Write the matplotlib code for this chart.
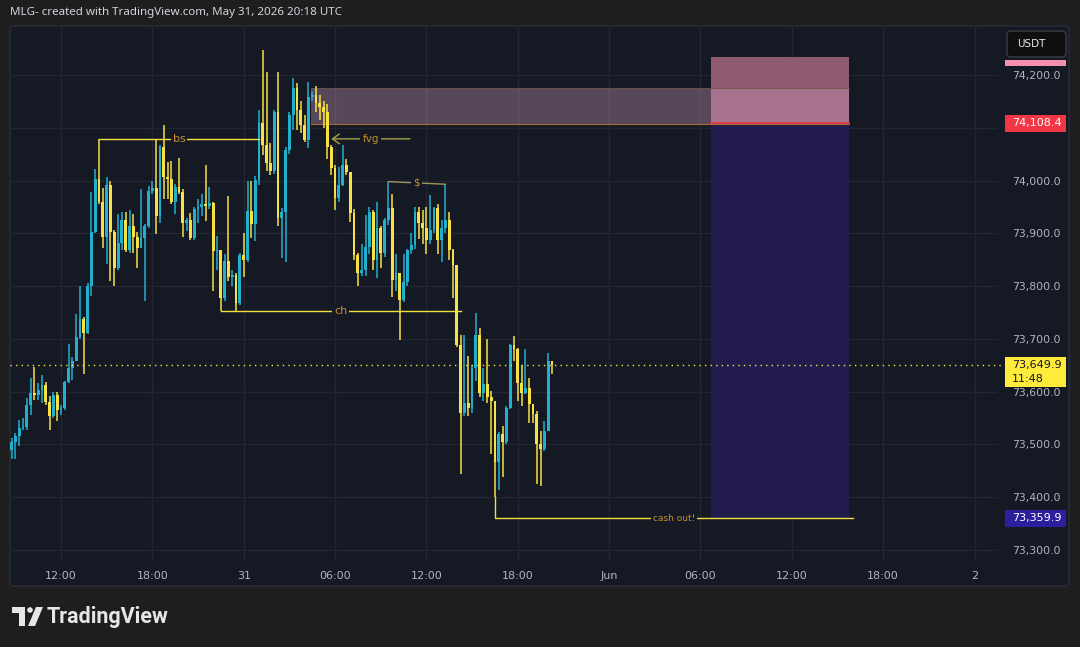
import matplotlib
matplotlib.use("Agg")
import matplotlib.pyplot as plt
import matplotlib.dates as mdates
from matplotlib.patches import Rectangle, FancyBboxPatch, Polygon, Circle
import pandas as pd

# 15m candles, 30 May 08:45 -> 31 May 20:15 (UTC)
first_open = 73490
closes = [73505, 73516, 73531, 73534, 73575, 73597, 73594, 73603, 73612, 73581,
          73553, 73594, 73566, 73569, 73619, 73644, 73659, 73703, 73737, 73712,
          73800, 73903, 74003, 73959, 73894, 73991, 73903, 73834, 73881, 73925,
          73869, 73913, 73894, 73872, 73891, 73913, 73981, 73985, 73933, 74064,
          74006, 74003, 73959, 73987, 73979, 73920, 73925, 73892, 73946, 73950,
          73956, 73952, 73957, 73866, 73869, 73777, 73847, 73818, 73822, 73768,
          73859, 73850, 73942, 73917, 74002, 74109, 74068, 74033, 74018, 74130,
          73929, 73941, 74058, 74124, 74176, 74134, 74105, 74077, 74158, 74162,
          74147, 74140, 74130, 74064, 74024, 73967, 73992, 74030, 74017, 73939,
          73859, 73825, 73830, 73874, 73940, 73850, 73910, 73863, 73925, 73948,
          73812, 73825, 73773, 73808, 73868, 73878, 73940, 73920, 73910, 73887,
          73906, 73948, 73887, 73910, 73925, 73868, 73840, 73689, 73560, 73579,
          73570, 73645, 73708, 73598, 73614, 73589, 73582, 73466, 73520, 73504,
          73570, 73689, 73680, 73617, 73598, 73607, 73576, 73557, 73501, 73491,
          73526, 73659, 73650]
highs = [73512, 73522, 73547, 73550, 73588, 73625, 73647, 73616, 73631, 73619,
         73591, 73600, 73600, 73575, 73620, 73691, 73666, 73747, 73800, 73741,
         73806, 73978, 74022, 74079, 73985, 74006, 74000, 73906, 73937, 73940,
         73940, 73944, 73937, 73903, 73984, 73918, 73990, 74000, 74076, 74067,
         74105, 74035, 74038, 73993, 74043, 73984, 73930, 73939, 73949, 73965,
         73975, 74029, 73987, 73960, 73895, 73869, 73860, 73971, 73830, 73824,
         73862, 73901, 73999, 73999, 74008, 74134, 74247, 74206, 74071, 74134,
         74206, 73948, 74064, 74130, 74194, 74185, 74150, 74124, 74187, 74170,
         74180, 74162, 74150, 74145, 74068, 74030, 74025, 74068, 74040, 74017,
         73947, 73862, 73880, 73935, 73950, 73944, 73960, 73914, 73930, 73998,
         73975, 73860, 73825, 73860, 73870, 73900, 73950, 73950, 73945, 73950,
         73972, 73950, 73955, 73925, 73993, 73940, 73870, 73840, 73708, 73708,
         73667, 73651, 73749, 73720, 73645, 73699, 73601, 73582, 73523, 73535,
         73572, 73690, 73705, 73683, 73650, 73680, 73626, 73576, 73563, 73526,
         73545, 73673, 73659]
lows = [73472, 73472, 73497, 73528, 73528, 73556, 73584, 73584, 73578, 73575,
        73528, 73550, 73544, 73556, 73566, 73616, 73622, 73659, 73700, 73634,
        73710, 73781, 73900, 73956, 73872, 73841, 73809, 73800, 73830, 73869,
        73865, 73862, 73862, 73834, 73872, 73772, 73910, 73975, 73898, 73920,
        73965, 73965, 73955, 73936, 73975, 73894, 73905, 73888, 73888, 73920,
        73933, 73924, 73946, 73790, 73831, 73752, 73771, 73809, 73800, 73752,
        73765, 73818, 73845, 73892, 73886, 73992, 74049, 74018, 74010, 74012,
        73914, 73853, 73846, 74050, 74096, 74096, 74090, 74074, 74062, 74150,
        74130, 74115, 74100, 74040, 74010, 73945, 73960, 73990, 74010, 73922,
        73850, 73800, 73820, 73820, 73860, 73830, 73815, 73835, 73855, 73915,
        73780, 73790, 73698, 73770, 73800, 73860, 73870, 73890, 73880, 73860,
        73880, 73900, 73860, 73845, 73900, 73850, 73777, 73685, 73444, 73554,
        73554, 73560, 73620, 73589, 73582, 73579, 73482, 73400, 73413, 73438,
        73500, 73568, 73658, 73582, 73573, 73595, 73541, 73541, 73425, 73422,
        73488, 73526, 73633]

last_price = 73649.9
countdown = "11:48"
price_ticks = [73300, 73400, 73500, 73600, 73700, 73800, 73900, 74000, 74100, 74200]
hidden_ticks = [74100]  # sits under the entry tag
time_ticks = ["2026-05-30 12:00", "2026-05-30 18:00", "2026-05-31 00:00", "2026-05-31 06:00",
              "2026-05-31 12:00", "2026-05-31 18:00", "2026-06-01 00:00", "2026-06-01 06:00",
              "2026-06-01 12:00", "2026-06-01 18:00", "2026-06-02 00:00"]
time_labels = ["12:00", "18:00", "31", "06:00", "12:00", "18:00", "Jun", "06:00", "12:00", "18:00", "2"]

# drawings
bs_level, bs_span = 74079, ("2026-05-30 14:30", "2026-05-31 01:00")
ch_level, ch_span = 73752, ("2026-05-30 22:30", "2026-05-31 14:15")
fvg_arrow_level, fvg_arrow_span = 74079, ("2026-05-31 05:45", "2026-05-31 10:55")
usd_pts = [("2026-05-31 09:30", 73998), ("2026-05-31 13:15", 73993)]
fvg_box = ("2026-05-31 04:25", "2026-06-01 15:45", 74107, 74175)
pos_span = ("2026-06-01 06:41", "2026-06-01 15:45")
stop_price, entry_price, target_price = 74234, 74108.4, 73359.9
cash_start, cash_end, cash_from = "2026-05-31 16:30", "2026-06-01 16:00", 73400

W, H = 1080, 647
panel = "#151924"
up_c, dn_c = "#22b0cf", "#f7e145"
axis_txt = "#b2b5be"
note_c = "#c58d2c"

def t(s):
    return mdates.date2num(pd.Timestamp(s).to_pydatetime())

fig = plt.figure(figsize=(W / 100, H / 100), dpi=100, facecolor="#1e1e1e")
bg = fig.add_axes([0, 0, 1, 1])
bg.set_xlim(0, W)
bg.set_ylim(H, 0)
bg.axis("off")
bg.add_patch(FancyBboxPatch((10, 26), 1059, 560, boxstyle="round,pad=0,rounding_size=4",
                            fc=panel, ec="#2a2e39", lw=1))
bg.text(10, 13, "MLG- created with TradingView.com, May 31, 2026 20:18 UTC",
        color="#d1d4dc", fontsize=8.3, va="center", ha="left", family="Noto Sans")
# logo
bg.add_patch(Rectangle((12, 607), 13, 6, color="#e6e6e6", lw=0))
bg.add_patch(Rectangle((19, 607), 6, 19, color="#e6e6e6", lw=0))
bg.add_patch(Circle((30, 610), 2.8, color="#e6e6e6", lw=0))
bg.add_patch(Polygon([(36, 607), (43, 607), (35, 626), (28, 626)], color="#e6e6e6", lw=0))
bg.text(47, 617, "TradingView", color="#e6e6e6", fontsize=15.5, fontweight="bold",
        va="center", ha="left", family="Roboto")

# main price pane
top_px, bot_px, left_px, right_px = 26, 561, 10, 998
k = 900 / 475  # price units per pixel
ax = fig.add_axes([left_px / W, 1 - bot_px / H, (right_px - left_px) / W, (bot_px - top_px) / H],
                  zorder=2)
ax.set_facecolor("none")
ax.set_ylim(74200 - (bot_px - 75) * k, 74200 + (75 - top_px) * k)
base = t("2026-05-30 12:00")
ax.set_xlim(base - (61 - left_px) / 15.225 / 24, base + (right_px - 61) / 15.225 / 24)
for s in ax.spines.values():
    s.set_visible(False)
ax.grid(True, color="#222632", lw=1)
ax.set_axisbelow(True)
ax.set_xticks([t(s) for s in time_ticks])
ax.set_xticklabels(time_labels)
ax.set_yticks(price_ticks)
ax.set_yticklabels(["" if p in hidden_ticks else f"{p:,.1f}" for p in price_ticks])
ax.yaxis.tick_right()
ax.tick_params(axis="both", length=0, colors=axis_txt, labelsize=8)
ax.tick_params(axis="x", pad=7)
ax.tick_params(axis="y", pad=10.5, labelsize=7.8)

# zones
p0, p1 = t(pos_span[0]), t(pos_span[1])
ax.add_patch(Rectangle((p0, target_price), p1 - p0, entry_price - target_price,
                       fc="#221c4e", lw=0, zorder=1))
ax.add_patch(Rectangle((p0, entry_price), p1 - p0, stop_price - entry_price,
                       fc="#8e5a70", lw=0, zorder=1))
ax.plot([p0, p1], [entry_price, entry_price], color="#f23645", lw=1.2, zorder=1.6)
f0, f1 = t(fvg_box[0]), t(fvg_box[1])
ax.add_patch(Rectangle((f0, fvg_box[2]), f1 - f0, fvg_box[3] - fvg_box[2],
                       fc="#e0a8c7", alpha=0.33, lw=0, zorder=1.5))
ax.plot([f0, f1], [fvg_box[2], fvg_box[2]], color="#a56a38", lw=0.8, zorder=1.5)
ax.plot([f0, f1], [fvg_box[3], fvg_box[3]], color="#6b5048", lw=0.6, zorder=1.5)

# candles
times = pd.date_range("2026-05-30 08:45", periods=len(closes), freq="15min")
xs = mdates.date2num(times.to_pydatetime())
opens = [first_open] + closes[:-1]
bw = 0.74 / 96
for xi, o, h, l, c in zip(xs, opens, highs, lows, closes):
    col = up_c if c >= o else dn_c
    ax.vlines(xi, min(l, o, c), max(h, o, c), color=col, lw=1.1, zorder=3)
    ax.bar(xi, max(abs(c - o), 1.5), bottom=min(o, c), width=bw, color=col, lw=0, zorder=3)

# annotations
bright = "#f3df3c"
dim = "#a99f45"
def note(xm, y, s, size=7.5):
    ax.text(xm, y, s, color=note_c, fontsize=size, ha="center", va="center", zorder=5,
            bbox=dict(fc=panel, ec="none", pad=1.5))

a, b = t(bs_span[0]), t(bs_span[1])
ax.plot([a, b], [bs_level, bs_level], color=bright, lw=1, zorder=4)
note((a + b) / 2, bs_level, "bs", 8)
a, b = t(ch_span[0]), t(ch_span[1])
ax.plot([a, b], [ch_level, ch_level], color=bright, lw=1, zorder=4)
note((a + b) / 2, ch_level, "ch", 8)
a, b = t(fvg_arrow_span[0]), t(fvg_arrow_span[1])
ax.annotate("", xy=(a, fvg_arrow_level), xytext=(b, fvg_arrow_level), zorder=4,
            arrowprops=dict(arrowstyle="->,head_length=0.5,head_width=0.35", color=dim, lw=1,
                            shrinkA=0, shrinkB=0))
note((a + b) / 2, fvg_arrow_level, "fvg", 7.5)
a, b = t(usd_pts[0][0]), t(usd_pts[1][0])
ax.plot([a, b], [usd_pts[0][1], usd_pts[1][1]], color="#9d9660", lw=1, zorder=4)
note((a + b) / 2, (usd_pts[0][1] + usd_pts[1][1]) / 2, "$", 7.5)
a, b = t(cash_start), t(cash_end)
ax.plot([a, a, b], [cash_from, target_price, target_price], color=bright, lw=1, zorder=4)
note((a + b) / 2, target_price, "cash out!", 6.5)

# last price line
ax.axhline(last_price, xmin=0, xmax=1.008, color=dn_c, ls=(0, (1, 3)), lw=1, zorder=4,
           clip_on=False)

# price scale tags
yt = ax.get_yaxis_transform()
aw = right_px - left_px
def tag(price, up_px, down_px, fc, lines, tc):
    ax.add_patch(Rectangle(((1005 - left_px) / aw, price - down_px * k), 61 / aw,
                           (up_px + down_px) * k, transform=yt, fc=fc, lw=0,
                           clip_on=False, zorder=6))
    for i, s in enumerate(lines):
        ax.text((1012 - left_px) / aw, price - i * 14 * k, s, transform=yt, color=tc,
                fontsize=8, va="center", ha="left", clip_on=False, zorder=7)

tag(stop_price - 6 * k, 3, 3, "#f58fb0", [], "white")
tag(entry_price, 8, 8.5, "#f23645", ["74,108.4"], "white")
tag(last_price, 8.5, 21.5, "#ffeb3b", ["73,649.9", countdown], "#131722")
tag(target_price, 8, 8.5, "#2c1f9e", ["73,359.9"], "white")

# currency button
top = fig.add_axes([0, 0, 1, 1], zorder=5)
top.set_xlim(0, W)
top.set_ylim(H, 0)
top.axis("off")
top.patch.set_alpha(0)
top.add_patch(FancyBboxPatch((1007, 31), 59, 26, boxstyle="round,pad=0,rounding_size=4",
                             fc="#0f0f0f", ec="#3d3f45", lw=1))
top.text(1031, 44, "USDT", color="#e8e8e8", fontsize=7.5, ha="center", va="center")

fig.savefig("out.png", dpi=100, facecolor=fig.get_facecolor())
